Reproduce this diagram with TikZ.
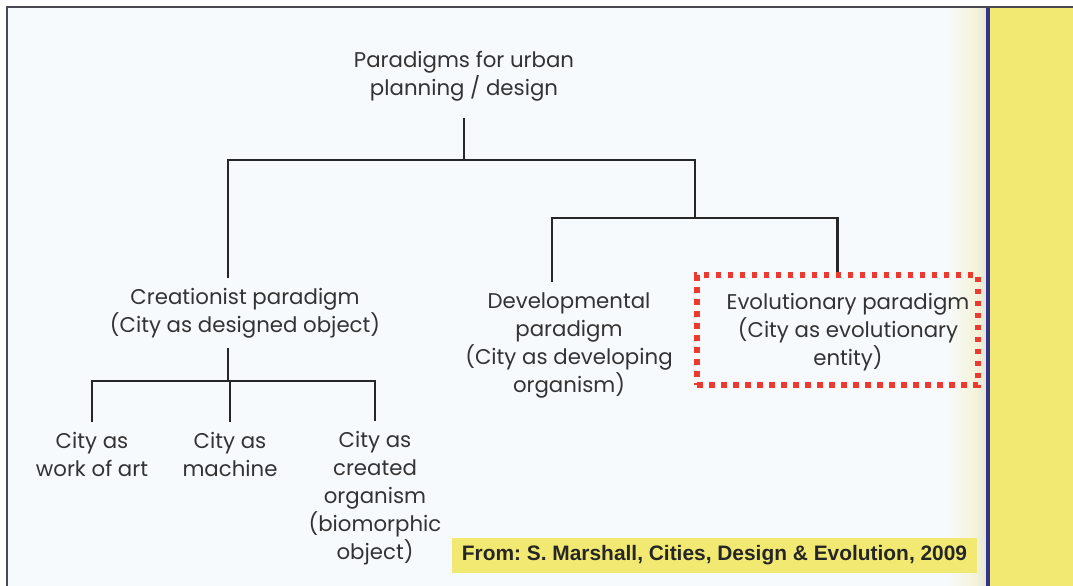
\documentclass[tikz,border=0pt]{standalone}
\usepackage{fontspec}
\setmainfont{Poppins}
\newfontfamily\srcfont{Liberation Sans}
\definecolor{paper}{HTML}{F7FAFD}
\definecolor{fade}{HTML}{F4F3DA}
\definecolor{fadeedge}{HTML}{E4E6DA}
\definecolor{panel}{HTML}{F1E971}
\definecolor{rule}{HTML}{33338C}
\definecolor{frame}{HTML}{4A4A55}
\definecolor{ink}{HTML}{333333}
\definecolor{mark}{HTML}{EC3A2F}
\begin{document}
\begin{tikzpicture}[x=1pt,y=-1pt,
    lbl/.style={align=center,text=ink,font=\fontsize{21.3}{28}\selectfont,inner xsep=0pt,inner ysep=10pt,anchor=base},
    link/.style={line width=2.8pt,draw=black!85},
    evobox/.style={draw=mark,line width=5.5pt,dash pattern=on 5.5pt off 6.5pt,minimum width=281pt,minimum height=110pt},
    srcbox/.style={fill=panel,text=black!85,font=\srcfont\bfseries\fontsize{20.9}{21}\selectfont\frenchspacing,minimum width=525pt,minimum height=35pt,inner sep=0pt}]
\useasboundingbox (0,0) rectangle (1073,586);
% page background, side panel and frame
\fill[white] (0,0) rectangle (1073,586);
\fill[paper] (7,7) rectangle (986,586);
\shade[left color=paper,right color=fade] (945,7) rectangle (975,586);
\shade[left color=fade,right color=fadeedge] (975,7) rectangle (986.2,586);
\fill[panel] (988,7) rectangle (1073,586);
\draw[line width=4pt,rule] (988,7) -- (988,586);
\draw[line width=2pt,frame] (7,586) -- (7,7) -- (1073,7);
% the tree (base = last line)
\node[lbl] (root) at (464,95) {Paradigms for urban\\planning / design};
\node[lbl] (crea) at (245,332) {Creationist paradigm\\(City as designed object)};
\node[lbl] (dev) at (569,392) {Developmental\\paradigm\\(City as developing\\organism)};
\node[evobox] (evo) at (837.5,330) {};
\node[lbl] (evotxt) at (848,365) {Evolutionary paradigm\\(City as evolutionary\\entity)};
\node[lbl] (art) at (92,476) {City as\\work of art};
\node[lbl] (mach) at (230,476) {City as\\machine};
\node[lbl] (org) at (375,559) {City as\\created\\organism\\(biomorphic\\object)};
\coordinate (top) at (464,160);
\coordinate (sub) at (695,218);
\coordinate (cbar) at (228,381);
\draw[link,shorten <=7pt] (root.south) -- (top);
\draw[link] (top) -| ([xshift=-17pt]crea.north);
\draw[link] (top) -| (sub);
\draw[link] (sub) -| ([xshift=-17pt]dev.north);
\draw[link] (sub) -| (evo.north);
\draw[link] ([xshift=-17pt]crea.south) -- (cbar);
\foreach \leaf in {art,mach,org}
    \draw[link] (cbar) -| (\leaf.north);
\node[srcbox] (src) at (714.5,555.5) {From: S. Marshall, Cities, Design \& Evolution, 2009};
\end{tikzpicture}
\end{document}
